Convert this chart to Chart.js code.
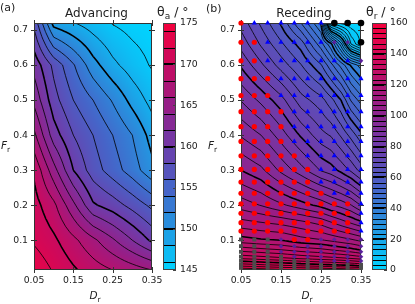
<!DOCTYPE html>
<html>
<head>
<meta charset="utf-8">
<script src="https://cdn.jsdelivr.net/npm/chart.js@4.4.0/dist/chart.umd.min.js"></script>
<style>
  html, body { margin: 0; padding: 0; background: #fff; }
  #wrap { position: relative; width: 415px; height: 304px; overflow: hidden; }
  .box { position: absolute; top: 0; height: 304px; }
</style>
</head>
<body>
<div id="wrap">
  <div class="box" style="left:0;width:166px"><canvas id="chartA"></canvas></div>
  <div class="box" style="left:150px;width:60px"><canvas id="cbarA"></canvas></div>
  <div class="box" style="left:205px;width:170px"><canvas id="chartB"></canvas></div>
  <div class="box" style="left:358px;width:57px"><canvas id="cbarB"></canvas></div>
</div>
<script>
// axis ticks
const xTicks = [0.05, 0.15, 0.25, 0.35];
const xTickLabels = ["0.05", "0.15", "0.25", "0.35"];
const yTicks = [0.1, 0.2, 0.3, 0.4, 0.5, 0.6, 0.7];
const yTickLabels = ["0.1", "0.2", "0.3", "0.4", "0.5", "0.6", "0.7"];

// (a) advancing angle, rows = advY (bottom to top), columns = advX
const advX = [0.05, 0.10, 0.15, 0.20, 0.25, 0.30, 0.35];
const advY = [0.015, 0.1, 0.2, 0.3, 0.4, 0.5, 0.6, 0.72];
const advTheta = [
  [173.5, 171.8, 170.3, 169.0, 168.0, 167.0, 166.0],
  [171.7, 170.4, 168.5, 166.5, 164.3, 162.0, 159.6],
  [170.8, 168.5, 164.5, 160.3, 159.0, 157.3, 155.5],
  [169.7, 164.8, 160.0, 157.0, 155.0, 153.0, 150.6],
  [166.5, 161.0, 158.0, 156.0, 154.0, 152.0, 149.2],
  [163.5, 158.8, 156.0, 154.0, 151.8, 149.3, 147.3],
  [161.3, 157.5, 154.2, 150.8, 148.5, 147.0, 145.8],
  [157.5, 149.2, 148.1, 147.0, 145.9, 145.3, 145.0]
];
const advLevels = [146, 148, 150, 152, 154, 156, 158, 160, 162, 164, 166, 168, 170, 172, 174];
const advMajor = [150, 160, 170];
const advRange = [145, 175];
const advBarTicks = [145, 150, 155, 160, 165, 170, 175];

// (b) receding angle
const recX = [0.05, 0.10, 0.15, 0.20, 0.25, 0.275, 0.30, 0.325, 0.35];
const recY = [0.015, 0.03, 0.05, 0.075, 0.1, 0.15, 0.2, 0.3, 0.4, 0.5, 0.6, 0.66, 0.72];
const recTheta = [
  [153.0, 152.0, 151.0, 150.5, 150.0, 149.5, 149.0, 148.5, 148.0],
  [144.5, 143.5, 142.5, 141.5, 140.5, 140.0, 139.5, 139.0, 138.0],
  [135.5, 134.5, 133.5, 132.0, 131.0, 130.5, 130.0, 129.0, 128.0],
  [128.0, 127.0, 126.0, 124.5, 123.5, 122.5, 121.5, 120.5, 119.0],
  [121.5, 120.5, 120.0, 118.0, 117.0, 116.0, 115.0, 114.0, 112.6],
  [114.5, 113.5, 112.5, 111.0, 109.0, 107.0, 105.0, 103.0, 100.9],
  [108.5, 106.5, 104.0, 101.5, 99.0, 97.0, 95.5, 93.5, 89.8],
  [100.0, 97.5, 92.5, 88.0, 83.0, 81.5, 79.0, 76.0, 72.0],
  [93.0, 90.0, 85.0, 79.5, 74.5, 73.0, 69.5, 65.5, 61.0],
  [86.5, 82.5, 78.0, 71.5, 68.0, 64.5, 60.0, 53.0, 48.5],
  [79.5, 74.0, 68.5, 63.5, 57.0, 51.0, 45.5, 39.5, 35.0],
  [75.5, 69.5, 64.0, 58.5, 48.0, 41.0, 28.0, 10.0, 3.0],
  [72.0, 66.0, 59.5, 50.0, 39.5, 6.0, 2.5, 1.0, 0.5]
];
const recLevels = Array.from({ length: 47 }, (_, k) => ((k + 1) * 160) / 48);
const recRange = [0, 160];
const recBarTicks = [0, 20, 40, 60, 80, 100, 120, 140, 160];

// (b) simulation states: R red, B blue, K black, P purple, G grey
const recColX = [0.05, 0.0833, 0.1167, 0.15, 0.1833, 0.2167, 0.25, 0.2833, 0.3167, 0.35];
const recRowY = [0.72, 0.665, 0.612, 0.561, 0.513, 0.467, 0.424, 0.382, 0.341, 0.302, 0.266,
  0.234, 0.204, 0.177, 0.150, 0.126, 0.102, 0.083, 0.067, 0.053, 0.041, 0.030, 0.021];
const recStates = [
  "RBBBBBBKKK", "RRBBBBBPPK", "RRBBBBBBBP", "RRRBBBBBBB", "RRRBBBBBBB", "RRRRBBBBBB",
  "RRRRBBBBBB", "RRRRBBBBBB", "RRRRRBBBBB", "RRRRRRBBBB", "RRRRRRBBBB", "RRRRRRRBBB",
  "RRRRRRRRRB", "RRRRRRRRRB", "RRRRRRRRRB", "RRRRRRRRRB", "GGGPRRPPPP", "GGGPPPPPPP",
  "GGGPPPPPPP", "GGGGPPPPPP", "GGGGGGPPPP", "GGGGGGGGGG", "GGGGGGGGGG"
];

const FONT = '"DejaVu Sans", sans-serif';
const TXT = "#222";

const cmapStops = [
  [0.0, [0, 212, 255]],
  [0.167, [35, 150, 225]],
  [0.333, [70, 100, 200]],
  [0.5, [110, 60, 170]],
  [0.667, [150, 30, 135]],
  [0.833, [200, 10, 95]],
  [1.0, [245, 0, 60]]
];

function cmap(t) {
  t = Math.max(0, Math.min(1, t));
  for (let i = 0; i < cmapStops.length - 1; i++) {
    const [t0, c0] = cmapStops[i];
    const [t1, c1] = cmapStops[i + 1];
    if (t <= t1) {
      const u = (t - t0) / (t1 - t0);
      return c0.map((v, k) => Math.round(v + (c1[k] - v) * u));
    }
  }
  return cmapStops[cmapStops.length - 1][1];
}
const rgb = (c) => `rgb(${c[0]},${c[1]},${c[2]})`;

function seg(arr, v) {
  let i = 0;
  while (i < arr.length - 2 && v > arr[i + 1]) i++;
  return i;
}
function fieldValue(f, xv, yv) {
  const i = seg(f.xs, xv), j = seg(f.ys, yv);
  const tx = Math.max(0, Math.min(1, (xv - f.xs[i]) / (f.xs[i + 1] - f.xs[i])));
  const ty = Math.max(0, Math.min(1, (yv - f.ys[j]) / (f.ys[j + 1] - f.ys[j])));
  const z = f.z;
  return (z[j][i] * (1 - tx) + z[j][i + 1] * tx) * (1 - ty) +
         (z[j + 1][i] * (1 - tx) + z[j + 1][i + 1] * tx) * ty;
}

// marching squares on a subdivided copy of the grid
function contourSegments(f, level, n) {
  const fx = [], fy = [];
  for (let i = 0; i < f.xs.length - 1; i++)
    for (let k = 0; k < n; k++) fx.push(f.xs[i] + ((f.xs[i + 1] - f.xs[i]) * k) / n);
  fx.push(f.xs[f.xs.length - 1]);
  for (let j = 0; j < f.ys.length - 1; j++)
    for (let k = 0; k < n; k++) fy.push(f.ys[j] + ((f.ys[j + 1] - f.ys[j]) * k) / n);
  fy.push(f.ys[f.ys.length - 1]);
  const fz = fy.map((yv) => fx.map((xv) => fieldValue(f, xv, yv)));
  const segs = [];
  for (let j = 0; j < fy.length - 1; j++) {
    for (let i = 0; i < fx.length - 1; i++) {
      const c = [
        [fx[i], fy[j], fz[j][i]],
        [fx[i + 1], fy[j], fz[j][i + 1]],
        [fx[i + 1], fy[j + 1], fz[j + 1][i + 1]],
        [fx[i], fy[j + 1], fz[j + 1][i]]
      ];
      const pts = [];
      for (let k = 0; k < 4; k++) {
        const a = c[k], b = c[(k + 1) % 4];
        if ((a[2] < level) !== (b[2] < level)) {
          const t = (level - a[2]) / (b[2] - a[2]);
          pts.push([a[0] + t * (b[0] - a[0]), a[1] + t * (b[1] - a[1])]);
        }
      }
      if (pts.length === 2) segs.push(pts);
      else if (pts.length === 4) {
        const mid = (c[0][2] + c[1][2] + c[2][2] + c[3][2]) / 4;
        if ((mid < level) === (c[0][2] < level)) { segs.push([pts[0], pts[1]]); segs.push([pts[2], pts[3]]); }
        else { segs.push([pts[0], pts[3]]); segs.push([pts[1], pts[2]]); }
      }
    }
  }
  return segs;
}

function fieldPlugin(f) {
  return {
    id: "field",
    beforeDatasetsDraw(chart) {
      const { ctx, chartArea: a, scales: { x, y } } = chart;
      const w = Math.round(a.right - a.left), h = Math.round(a.bottom - a.top);
      const off = document.createElement("canvas");
      off.width = w; off.height = h;
      const octx = off.getContext("2d");
      const img = octx.createImageData(w, h);
      for (let py = 0; py < h; py++) {
        const yv = y.getValueForPixel(a.top + py + 0.5);
        for (let px = 0; px < w; px++) {
          const xv = x.getValueForPixel(a.left + px + 0.5);
          const c = cmap((fieldValue(f, xv, yv) - f.vmin) / (f.vmax - f.vmin));
          const k = (py * w + px) * 4;
          img.data[k] = c[0]; img.data[k + 1] = c[1]; img.data[k + 2] = c[2]; img.data[k + 3] = 255;
        }
      }
      octx.putImageData(img, 0, 0);
      ctx.save();
      ctx.drawImage(off, a.left, a.top);
      ctx.beginPath();
      ctx.rect(a.left, a.top, a.right - a.left, a.bottom - a.top);
      ctx.clip();
      ctx.strokeStyle = "#000";
      [false, true].forEach((major) => {
        ctx.lineWidth = major ? 1.6 : 0.8;
        ctx.beginPath();
        f.levels.filter((l) => f.isMajor(l) === major).forEach((l) => {
          contourSegments(f, l, 5).forEach((s) => {
            ctx.moveTo(x.getPixelForValue(s[0][0]), y.getPixelForValue(s[0][1]));
            ctx.lineTo(x.getPixelForValue(s[1][0]), y.getPixelForValue(s[1][1]));
          });
        });
        ctx.stroke();
      });
      ctx.restore();
      // frame and in-out ticks
      ctx.save();
      ctx.strokeStyle = "#333";
      ctx.lineWidth = 1;
      ctx.strokeRect(a.left + 0.5, a.top + 0.5, a.right - a.left - 1, a.bottom - a.top - 1);
      ctx.beginPath();
      xTicks.forEach((v) => {
        const p = Math.round(x.getPixelForValue(v)) + 0.5;
        ctx.moveTo(p, a.bottom - 3); ctx.lineTo(p, a.bottom + 3);
        ctx.moveTo(p, a.top - 3); ctx.lineTo(p, a.top + 3);
      });
      yTicks.forEach((v) => {
        const p = Math.round(y.getPixelForValue(v)) + 0.5;
        ctx.moveTo(a.left - 3, p); ctx.lineTo(a.left + 3, p);
        ctx.moveTo(a.right - 3, p); ctx.lineTo(a.right + 3, p);
      });
      ctx.stroke();
      ctx.restore();
    }
  };
}

function drawRich(ctx, it) {
  ctx.save();
  ctx.fillStyle = TXT;
  ctx.textBaseline = "alphabetic";
  let total = 0;
  const parts = it.parts.map((p) => {
    ctx.font = `${p.italic ? "italic " : ""}${p.size}px ${FONT}`;
    const w = ctx.measureText(p.t).width;
    total += w;
    return Object.assign({ w }, p);
  });
  let cx = it.align === "center" ? it.x - total / 2 : it.x;
  parts.forEach((p) => {
    ctx.font = `${p.italic ? "italic " : ""}${p.size}px ${FONT}`;
    ctx.fillText(p.t, cx, it.y + (p.dy || 0));
    cx += p.w;
  });
  ctx.restore();
}
function textPlugin(items) {
  return { id: "texts", afterDraw(chart) { items.forEach((it) => drawRich(chart.ctx, it)); } };
}

function xAxis() {
  return {
    type: "linear", min: 0.05, max: 0.35,
    grid: { display: false, drawTicks: false }, border: { display: false },
    ticks: { color: TXT, font: { family: FONT, size: 9.3 }, padding: 5, maxRotation: 0, autoSkip: false,
      callback: (v, i) => xTickLabels[i] },
    afterBuildTicks: (s) => { s.ticks = xTicks.map((v) => ({ value: v })); },
    afterFit: (s) => { s.height = 34; s.paddingLeft = 0; s.paddingRight = 0; }
  };
}
function yAxis(width) {
  return {
    type: "linear", min: 0.015, max: 0.72,
    grid: { display: false, drawTicks: false }, border: { display: false },
    ticks: { color: TXT, font: { family: FONT, size: 9.3 }, padding: 6, autoSkip: false,
      callback: (v, i) => yTickLabels[i] },
    afterBuildTicks: (s) => { s.ticks = yTicks.map((v) => ({ value: v })); },
    afterFit: (s) => { s.width = width; s.paddingTop = 0; s.paddingBottom = 0; }
  };
}

function mainChart(id, width, right, datasets, field, texts) {
  return new Chart(document.getElementById(id), {
    type: "scatter",
    data: { datasets },
    options: {
      responsive: true, maintainAspectRatio: false, animation: false, events: [],
      layout: { padding: { left: 0, right, top: 23, bottom: 0 } },
      plugins: { legend: { display: false }, tooltip: { enabled: false } },
      scales: { x: xAxis(), y: yAxis(width) }
    },
    plugins: [fieldPlugin(field), textPlugin(texts)]
  });
}

function colorBar(id, range, levels, ticks, isMajor, padLeft, axisWidth, tickPad, texts) {
  const bounds = [range[0], ...levels, range[1]];
  const datasets = bounds.slice(0, -1).map((lo, i) => ({
    data: [[lo, bounds[i + 1]]],
    backgroundColor: rgb(cmap(((lo + bounds[i + 1]) / 2 - range[0]) / (range[1] - range[0]))),
    borderWidth: 0, grouped: false, barPercentage: 1, categoryPercentage: 1
  }));
  const lines = {
    id: "cbarLines",
    afterDatasetsDraw(chart) {
      const { ctx, chartArea: a, scales: { y } } = chart;
      ctx.save();
      ctx.strokeStyle = "#000";
      levels.forEach((l) => {
        const major = isMajor(l);
        ctx.lineWidth = major ? 2 : 1;
        const p = major ? Math.round(y.getPixelForValue(l)) : Math.round(y.getPixelForValue(l)) + 0.5;
        ctx.beginPath(); ctx.moveTo(a.left, p); ctx.lineTo(a.right, p); ctx.stroke();
      });
      ctx.strokeStyle = "#444";
      ctx.lineWidth = 1;
      ctx.strokeRect(a.left + 0.5, a.top + 0.5, a.right - a.left - 1, a.bottom - a.top - 1);
      ctx.beginPath();
      ticks.forEach((v) => {
        const p = Math.round(y.getPixelForValue(v)) + 0.5;
        ctx.moveTo(a.right - 3, p); ctx.lineTo(a.right, p);
      });
      ctx.stroke();
      ctx.restore();
    }
  };
  return new Chart(document.getElementById(id), {
    type: "bar",
    data: { labels: [""], datasets },
    options: {
      responsive: true, maintainAspectRatio: false, animation: false, events: [],
      layout: { padding: { left: padLeft, right: 0, top: 23, bottom: 34 } },
      plugins: { legend: { display: false }, tooltip: { enabled: false } },
      scales: {
        x: { display: false },
        y: {
          position: "right", min: range[0], max: range[1],
          grid: { display: false, drawTicks: false }, border: { display: false },
          ticks: { color: TXT, font: { family: FONT, size: 9.3 }, padding: tickPad, autoSkip: false },
          afterBuildTicks: (s) => { s.ticks = ticks.map((v) => ({ value: v })); },
          afterFit: (s) => { s.width = axisWidth; s.paddingTop = 0; s.paddingBottom = 0; }
        }
      }
    },
    plugins: [lines, textPlugin(texts)]
  });
}

function subLabel(base, sub, x, y, align) {
  return { x, y, align, parts: [
    { t: base, size: 10.5, italic: true },
    { t: sub, size: 7.5, dy: 2.5 }
  ] };
}

// (a) advancing
mainChart("chartA", 34, 14, [], {
  xs: advX, ys: advY, z: advTheta, vmin: advRange[0], vmax: advRange[1],
  levels: advLevels, isMajor: (l) => advMajor.includes(l)
}, [
  { x: 0, y: 11, align: "left", parts: [{ t: "(a)", size: 11 }] },
  { x: 96.5, y: 17, align: "center", parts: [{ t: "Advancing", size: 12 }] },
  subLabel("F", "r", 1, 149, "left"),
  subLabel("D", "r", 95, 299, "center")
]);

colorBar("cbarA", advRange, advLevels, advBarTicks, (l) => advMajor.includes(l), 13, 34, 4, [
  { x: 7, y: 16, align: "left", parts: [
    { t: "θ", size: 12.5 }, { t: "a", size: 9, dy: 3 }, { t: " / °", size: 12.5 }
  ] }
]);

// (b) receding, with simulation markers
const markerStyles = {
  G: { pointStyle: "rect", radius: 2.8, color: "#4d4d4d" },
  P: { pointStyle: "rectRot", radius: 2.3, color: "#5a1f9c" },
  R: { pointStyle: "circle", radius: 2.6, color: "#ff0000" },
  B: { pointStyle: "triangle", radius: 3, color: "#0000ff" },
  K: { pointStyle: "circle", radius: 3.3, color: "#000000" }
};
const markerData = { G: [], P: [], R: [], B: [], K: [] };
recRowY.forEach((yv, r) => {
  recStates[r].split("").forEach((s, c) => markerData[s].push({ x: recColX[c], y: yv }));
});
const markerSets = Object.keys(markerData).reverse().map((k) => ({
  data: markerData[k],
  pointStyle: markerStyles[k].pointStyle,
  pointRadius: markerStyles[k].radius,
  pointBackgroundColor: markerStyles[k].color,
  pointBorderWidth: 0,
  showLine: false,
  clip: false
}));

mainChart("chartB", 36, 14, markerSets, {
  xs: recX, ys: recY, z: recTheta, vmin: recRange[0], vmax: recRange[1],
  levels: recLevels, isMajor: (l) => Math.abs(l / 20 - Math.round(l / 20)) < 1e-6
}, [
  { x: 1, y: 12, align: "left", parts: [{ t: "(b)", size: 11 }] },
  { x: 99, y: 17, align: "center", parts: [{ t: "Receding", size: 12 }] },
  subLabel("F", "r", 3, 149, "left"),
  subLabel("D", "r", 102, 299, "center")
]);

colorBar("cbarB", recRange, recLevels, recBarTicks,
  (l) => Math.abs(l / 20 - Math.round(l / 20)) < 1e-6, 14, 28, 3, [
  { x: 8, y: 16, align: "left", parts: [
    { t: "θ", size: 12.5 }, { t: "r", size: 9, dy: 3 }, { t: " / °", size: 12.5 }
  ] }
]);
</script>
</body>
</html>
